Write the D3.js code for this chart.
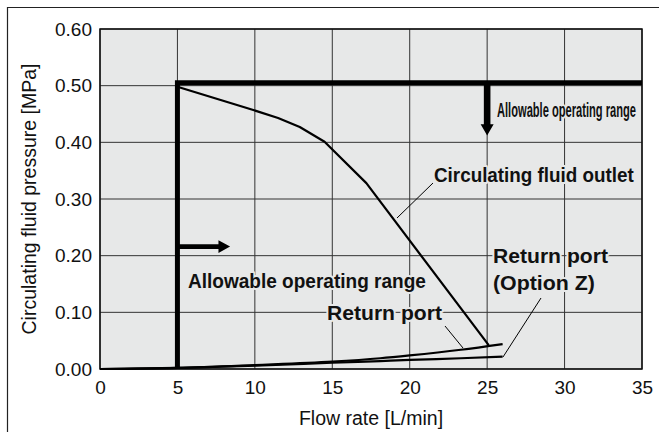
<!DOCTYPE html>
<html><head><meta charset="utf-8">
<script src="https://cdn.jsdelivr.net/npm/d3@7"></script>
<style>
body{margin:0;background:#fff;}
svg{display:block;font-family:"Liberation Sans",Arial,Helvetica,sans-serif;}
</style></head>
<body><svg id="c" width="659" height="432"></svg>
<script>
// Data
const flowTicks = [0, 5, 10, 15, 20, 25, 30, 35];
const pressureTicks = [0, 0.1, 0.2, 0.3, 0.4, 0.5, 0.6];
const outletFlow = [5, 9.9, 11.5, 12.9, 14.5, 17.2, 25.1];
const outletPressure = [0.498, 0.457, 0.443, 0.427, 0.401, 0.328, 0.042];
const returnFlow = [0, 5, 10, 15, 18.1, 20, 23.3, 26];
const returnPressure = [0, 0.002, 0.007, 0.013, 0.019, 0.024, 0.034, 0.044];
const optZFlow = [0, 5, 10, 15, 18.1, 20, 23.3, 26];
const optZPressure = [0, 0.002, 0.006, 0.011, 0.014, 0.016, 0.019, 0.022];
const rangeMinFlow = 5, rangeMaxPressure = 0.505;

const svg = d3.select("#c");
const W = 659, H = 432;
const m = {l:100, r:659-642, t:29, b:432-369};
const x = d3.scaleLinear().domain([0,35]).range([m.l, W-m.r]);
const y = d3.scaleLinear().domain([0,0.6]).range([H-m.b, m.t]);
const bg = "#e7e8e8";

// outer frame (left & top)
svg.append("path").attr("d","M7.5,432 V7.5 H659").attr("fill","none").attr("stroke","#222").attr("stroke-width",1.2);

// plot background
svg.append("rect").attr("x",x(0)).attr("y",y(0.6)).attr("width",x(35)-x(0)).attr("height",y(0)-y(0.6)).attr("fill",bg);

// grid
const g = svg.append("g");
g.selectAll("line.v").data(flowTicks).enter().append("line")
 .attr("x1",d=>x(d)).attr("x2",d=>x(d)).attr("y1",y(0)).attr("y2",y(0.6))
 .attr("stroke","#333").attr("stroke-width",1);
g.selectAll("line.h").data(pressureTicks).enter().append("line")
 .attr("y1",d=>y(d)).attr("y2",d=>y(d)).attr("x1",x(0)).attr("x2",x(35))
 .attr("stroke","#333").attr("stroke-width",1);

// axes
const xAxis = d3.axisBottom(x).tickValues(flowTicks).tickSize(0).tickPadding(11.5).tickFormat(d3.format("d"));
const yAxis = d3.axisLeft(y).tickValues(pressureTicks).tickSize(0).tickPadding(8).tickFormat(d3.format(".2f"));
const gx = svg.append("g").attr("transform",`translate(0,${y(0)})`).call(xAxis);
const gy = svg.append("g").attr("transform",`translate(${x(0)},0)`).call(yAxis);
[gx,gy].forEach(a=>{a.select(".domain").remove(); a.selectAll("text").attr("font-size",19).attr("fill","#111").attr("font-family","Liberation Sans, Arial, sans-serif");});

// plot border
svg.append("rect").attr("x",x(0)).attr("y",y(0.6)).attr("width",x(35)-x(0)).attr("height",y(0)-y(0.6))
 .attr("fill","none").attr("stroke","#111").attr("stroke-width",1.5);

// titles
svg.append("text").attr("x",(x(0)+x(35))/2).attr("y",425).attr("text-anchor","middle")
 .attr("font-size",19.5).attr("fill","#111").text("Flow rate [L/min]");
svg.append("text").attr("transform",`translate(35.5,${(y(0)+y(0.6))/2}) rotate(-90)`).attr("text-anchor","middle")
 .attr("font-size",19.5).attr("fill","#111").text("Circulating fluid pressure [MPa]");

// labels with halo, horizontally scaled to a target width
function label(tx,ty,str,size,len){
  const grp = svg.append("g");
  const t = grp.append("text").attr("x",0).attr("y",0).attr("font-size",size).attr("font-weight","bold")
   .attr("fill","#111").attr("stroke",bg).attr("stroke-width",4).attr("paint-order","stroke").attr("stroke-linejoin","round").text(str);
  const w = t.node().getComputedTextLength();
  const s = len ? len / w : 1;
  grp.attr("transform",`translate(${tx},${ty}) scale(${s},1)`);
  return t;
}

// leader lines (thin)
const leaders = [
  [[433,183],[397,218]],
  [[445,326],[463,348]],
  [[541,298],[503,357]]
];

// curves
const lineLin = d3.line().x(d=>x(d[0])).y(d=>y(d[1]));
const lineSmooth = d3.line().x(d=>x(d[0])).y(d=>y(d[1])).curve(d3.curveMonotoneX);
svg.append("path").attr("d",lineLin(d3.zip(outletFlow,outletPressure)))
 .attr("fill","none").attr("stroke","#000").attr("stroke-width",2.2).attr("stroke-linejoin","round");
[d3.zip(returnFlow,returnPressure), d3.zip(optZFlow,optZPressure)].forEach(s=>{
  svg.append("path").attr("d",lineSmooth(s)).attr("fill","none").attr("stroke","#000").attr("stroke-width",2.2);
});

// allowable range lines
svg.append("path").attr("d",lineLin([[rangeMinFlow,0],[rangeMinFlow,rangeMaxPressure],[35,rangeMaxPressure]]))
 .attr("fill","none").attr("stroke","#000").attr("stroke-width",5);

// arrows
const ax = x(25), ay0 = y(rangeMaxPressure);
svg.append("path").attr("d",`M${ax-3.3},${ay0} V${y(0.432)} H${ax-6.5} L${ax},${y(0.412)} L${ax+6.5},${y(0.432)} H${ax+3.3} V${ay0} Z`).attr("fill","#000");
const ry = y(0.216), rx0 = x(rangeMinFlow);
svg.append("path").attr("d",`M${rx0},${ry-2.3} H${x(7.65)} V${ry-6.3} L${x(8.4)},${ry} L${x(7.65)},${ry+6.3} V${ry+2.3} H${rx0} Z`).attr("fill","#000");

// labels
label(497,117,"Allowable operating range",20,139);
label(434,182,"Circulating fluid outlet",21,200);
label(188,288,"Allowable operating range",21,238);
label(327,320,"Return port",21,115);
label(493,263,"Return port",21,115);
label(493,290,"(Option Z)",21,102);

svg.selectAll("line.ld").data(leaders).enter().append("line")
 .attr("x1",d=>d[0][0]).attr("y1",d=>d[0][1]).attr("x2",d=>d[1][0]).attr("y2",d=>d[1][1])
 .attr("stroke","#000").attr("stroke-width",1);
</script></body></html>
